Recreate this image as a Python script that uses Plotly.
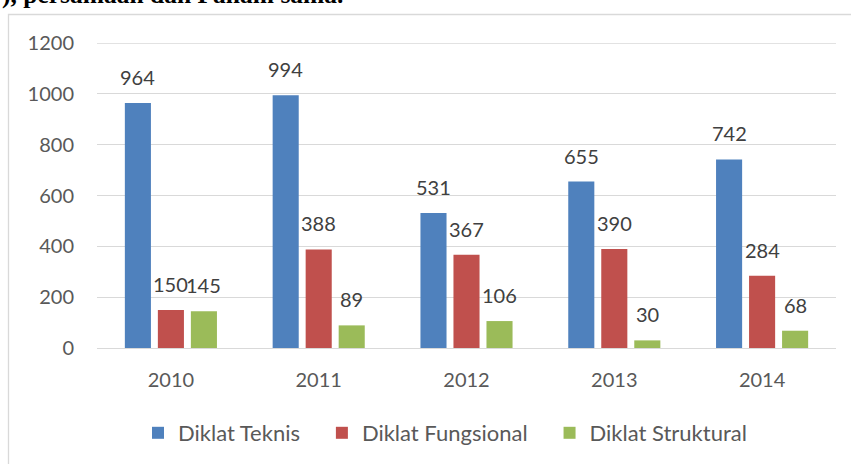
import plotly.graph_objects as go

years = ["2010", "2011", "2012", "2013", "2014"]
series_names = ["Diklat Teknis", "Diklat Fungsional", "Diklat Struktural"]
teknis = [964, 994, 531, 655, 742]
fungsional = [150, 388, 367, 390, 284]
struktural = [145, 89, 106, 30, 68]
colors = ["#4f81bd", "#c0504d", "#9bbb59"]
y_ticks = [0, 200, 400, 600, 800, 1000, 1200]
header_text = "), persamaan dan Paham sama."

W, H = 851, 464
ML, MR, MT, MB = 97, 15, 43, 116
PW = W - ML - MR
PH = H - MT - MB
BARGAP = 0.33
GROUPGAP = 0.21
FONT = "Lato"
PAD = "\u00a0\u00a0\u00a0"

all_series = [teknis, fungsional, struktural]

fig = go.Figure()
for k, (name, vals, col) in enumerate(zip(series_names, all_series, colors)):
    label = name + (PAD if k < len(series_names) - 1 else "")
    fig.add_trace(go.Bar(x=years, y=vals, name=label, marker=dict(color=col, line=dict(width=0))))

# data labels as annotations placed above each bar (x given as category index)
cat_px = PW / len(years)
slot_px = cat_px * (1 - BARGAP) / len(all_series)
annotations = []
for i, vals in enumerate(all_series):
    shift = (i - (len(all_series) - 1) / 2) * slot_px
    for j, v in enumerate(vals):
        annotations.append(dict(x=j, y=v, xref="x", yref="y", text=str(v), showarrow=False,
                                xshift=shift, yshift=12, yanchor="bottom", xanchor="center",
                                font=dict(family=FONT, size=20, color="#404040")))

annotations.append(dict(x=(0 - ML) / PW, y=(PH + MT - 11) / PH, xref="paper", yref="paper",
                        text="<b>" + header_text + "</b>", showarrow=False, xanchor="left",
                        yanchor="bottom", font=dict(family="Liberation Serif", size=25.5, color="#000000")))

shapes = [dict(type="rect", xref="paper", yref="paper",
               x0=(8.5 - ML) / PW, x1=(W + 20 - ML) / PW,
               y0=(PH + MT - (H + 20)) / PH, y1=(PH + MT - 14.5) / PH,
               line=dict(color="#d9d9d9", width=1.3), fillcolor="rgba(0,0,0,0)", layer="below"),
          dict(type="line", xref="paper", yref="y", x0=0, x1=1, y0=y_ticks[-1], y1=y_ticks[-1],
               line=dict(color="#d9d9d9", width=1.3), layer="below")]

fig.update_layout(
    width=W, height=H,
    margin=dict(l=ML, r=MR, t=MT, b=MB, pad=0, autoexpand=False),
    paper_bgcolor="white", plot_bgcolor="white",
    barmode="group", bargap=BARGAP, bargroupgap=GROUPGAP,
    font=dict(family=FONT, size=20, color="#595959"),
    showlegend=True,
    legend=dict(orientation="h", x=(445 - ML) / PW, xanchor="center",
                y=(PH + MT - 433) / PH, yanchor="middle",
                font=dict(family=FONT, size=22, color="#595959"), bgcolor="rgba(0,0,0,0)"),
    annotations=annotations,
    shapes=shapes,
)
fig.update_yaxes(range=[0, 1200], tickvals=y_ticks, showgrid=True, gridcolor="#d9d9d9", gridwidth=1.3,
                 zeroline=True, zerolinecolor="#d9d9d9", zerolinewidth=1.3, showline=False,
                 automargin=False, ticks="", ticklabelstandoff=22,
                 tickfont=dict(family=FONT, size=20, color="#595959"))
fig.update_xaxes(type="category", showgrid=False, showline=False, ticks="", ticklabelstandoff=18,
                 automargin=False, tickfont=dict(family=FONT, size=20, color="#595959"))

fig.write_html("out.html", config={"displayModeBar": False},
               post_script="document.body.style.margin='0';")
